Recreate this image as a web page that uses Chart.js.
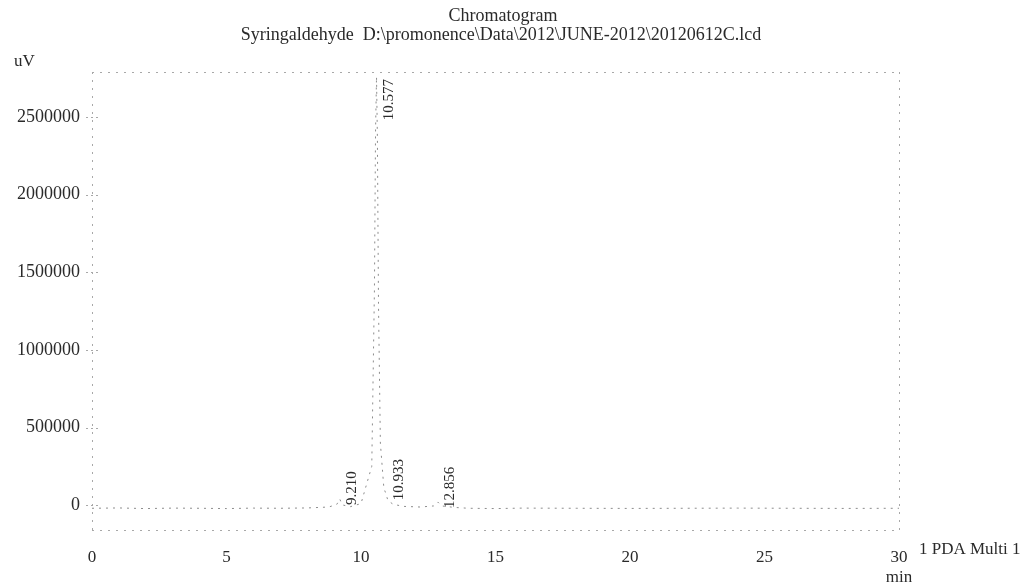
<!DOCTYPE html>
<html>
<head>
<meta charset="utf-8">
<script src="https://cdn.jsdelivr.net/npm/chart.js@4"></script>
<style>
html,body{margin:0;padding:0;background:#fff;}
#wrap{width:1031px;height:585px;position:relative;}
</style>
</head>
<body>
<div id="wrap"><canvas id="c" width="1031" height="585"></canvas></div>
<script>
// ---- data ----
const titleLines = ['Chromatogram', 'Syringaldehyde  D:\\promonence\\Data\\2012\\JUNE-2012\\20120612C.lcd'];
const yUnit = 'uV';
const xUnit = 'min';
const channelLabel = '1 PDA Multi 1';

const times  = [0, 1, 2, 3, 4, 5, 6, 7, 8, 8.8, 9.1, 9.21, 9.3, 9.6, 10.0, 10.4, 10.5, 10.54, 10.577, 10.61, 10.65, 10.72, 10.85, 10.933, 11.0, 11.2, 11.6, 12.2, 12.7, 12.856, 13.0, 13.5, 14, 15, 16, 18, 20, 22, 24, 26, 28, 30];
const signal = [-20000, -18000, -22000, -19000, -20000, -22000, -19000, -20000, -18000, -12000, 5000, 40000, 2000, -10000, 10000, 250000, 1400000, 2400000, 2760000, 2350000, 1300000, 400000, 110000, 70000, 30000, 5000, -8000, -12000, -5000, 20000, -5000, -15000, -20000, -22000, -19000, -20000, -21000, -20000, -19000, -20000, -21000, -20000];

const peakTimes   = [9.210, 10.577, 10.933, 12.856];
const peakHeights = [40000, 2760000, 70000, 20000];

const xTicks = [0, 5, 10, 15, 20, 25, 30];
const yTicks = [0, 500000, 1000000, 1500000, 2000000, 2500000];
const xMin = 0, xMax = 30, yMin = -160000, yMax = 2790000;

const serif = '"Liberation Serif", "DejaVu Serif", serif';
const inkColor = '#2a2a2a';
const traceColor = '#8c8c8c';
const frameColor = '#a8a8a8';

const points = times.map((t, i) => ({x: t, y: signal[i]}));

const decor = {
  id: 'decor',
  afterDraw(chart) {
    const {ctx, chartArea: a, scales: {x, y}} = chart;
    ctx.save();
    // dotted frame
    ctx.strokeStyle = frameColor;
    ctx.lineWidth = 1;
    ctx.setLineDash([2, 6]);
    ctx.beginPath();
    ctx.moveTo(a.left, a.top + 0.5); ctx.lineTo(a.right, a.top + 0.5);
    ctx.moveTo(a.right + 0.5, a.top); ctx.lineTo(a.right + 0.5, a.bottom);
    ctx.moveTo(a.left + 0.5, a.top); ctx.lineTo(a.left + 0.5, a.bottom);
    ctx.moveTo(a.left, a.bottom + 0.5); ctx.lineTo(a.right, a.bottom + 0.5);
    ctx.stroke();
    // y tick dashes
    ctx.setLineDash([2, 3]);
    yTicks.forEach(v => {
      const py = Math.round(y.getPixelForValue(v)) + 0.5;
      ctx.beginPath(); ctx.moveTo(a.left - 6, py); ctx.lineTo(a.left + 6, py); ctx.stroke();
    });
    ctx.setLineDash([]);
    // title
    ctx.fillStyle = inkColor;
    ctx.textAlign = 'center';
    ctx.textBaseline = 'alphabetic';
    ctx.font = '18px ' + serif;
    ctx.fillText(titleLines[0], 503, 21);
    ctx.fillText(titleLines[1], 501, 40);
    // unit labels
    ctx.font = '17px ' + serif;
    ctx.textAlign = 'left';
    ctx.fillText(yUnit, 14, 66);
    ctx.textAlign = 'center';
    ctx.fillText(xUnit, x.getPixelForValue(xMax), 582);
    ctx.textAlign = 'left';
    ctx.font = '17px ' + serif;
    ctx.fillText(channelLabel, a.right + 20, 554);
    // peak labels (rotated, reading upward)
    ctx.font = '15px ' + serif;
    peakTimes.forEach((t, i) => {
      const px = x.getPixelForValue(t) + 16;
      const py = y.getPixelForValue(peakHeights[i]);
      const label = t.toFixed(3);
      const w = ctx.measureText(label).width;
      ctx.save();
      ctx.translate(px, py);
      ctx.rotate(-Math.PI / 2);
      ctx.textBaseline = 'bottom';
      if (py - w - 6 < a.top) {
        ctx.textAlign = 'right';
        ctx.fillText(label, py - (a.top + 7), 4);
      } else {
        ctx.textAlign = 'left';
        ctx.fillText(label, -6, 4);
      }
      ctx.restore();
    });
    ctx.restore();
  }
};

new Chart(document.getElementById('c'), {
  type: 'line',
  data: {
    datasets: [{
      data: points,
      borderColor: traceColor,
      borderWidth: 1,
      borderDash: [2, 5],
      pointRadius: 0,
      tension: 0,
      fill: false
    }]
  },
  options: {
    responsive: false,
    animation: false,
    devicePixelRatio: 1,
    layout: {padding: {left: 0, right: 132, top: 72, bottom: 0}},
    plugins: {
      legend: {display: false},
      tooltip: {enabled: false},
      title: {display: false}
    },
    scales: {
      x: {
        type: 'linear',
        min: xMin, max: xMax,
        afterFit(s) { s.height = 55; },
        afterBuildTicks(s) { s.ticks = xTicks.map(v => ({value: v})); },
        grid: {display: false},
        border: {display: false},
        ticks: {color: inkColor, font: {family: serif, size: 17}, padding: 9, maxRotation: 0}
      },
      y: {
        type: 'linear',
        min: yMin, max: yMax,
        afterFit(s) { s.width = 92; },
        afterBuildTicks(s) { s.ticks = yTicks.map(v => ({value: v})); },
        grid: {display: false},
        border: {display: false},
        ticks: {color: inkColor, font: {family: serif, size: 18}, padding: 4,
                callback: v => String(v)}
      }
    }
  },
  plugins: [decor]
});
</script>
</body>
</html>
